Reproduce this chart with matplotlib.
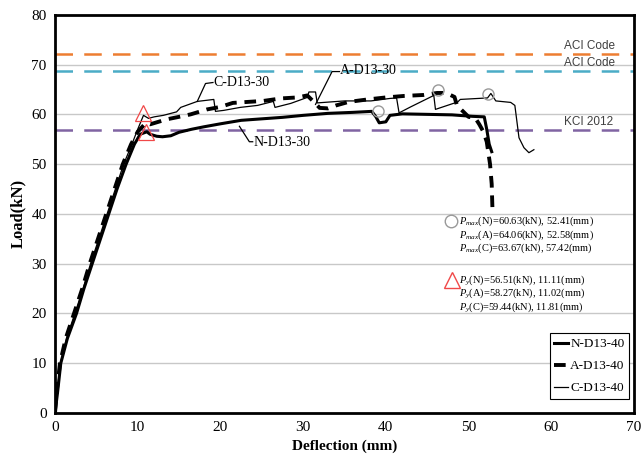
'''
Load-deflection curves, D13-40 series
'''

import matplotlib
matplotlib.use('Agg')
import matplotlib.pyplot as plt

plt.rcParams['font.family'] = 'Liberation Serif'
plt.rcParams['mathtext.fontset'] = 'custom'
plt.rcParams['mathtext.rm'] = 'Liberation Serif'
plt.rcParams['mathtext.it'] = 'Liberation Serif:italic'

# N-D13-40
n_x = [0, 0.3, 0.7, 1.5, 2.6, 3.5, 4.5, 5.5, 6.5, 7.5, 8.6, 9.6, 10.3, 11.1, 11.5, 12.3, 13.0,
       14.0, 15.0, 16.5, 18.0, 20.0, 22.5, 25.0, 27.5, 30.0, 33.0, 36.0, 38.3, 38.8, 39.2, 40.0,
       40.5, 42.0, 45.0, 48.0, 50.5, 51.9, 52.2, 52.5, 52.8]
n_y = [0, 4, 10, 15, 20, 25, 30, 35, 40, 45, 50, 54, 56, 56.5, 56.0, 55.6, 55.5,
       55.7, 56.4, 57.0, 57.5, 58.1, 58.8, 59.1, 59.4, 59.8, 60.2, 60.4, 60.6, 59.5, 58.3, 58.5,
       59.8, 60.1, 60.0, 59.9, 59.6, 59.5, 57.0, 54.0, 52.5]

# A-D13-40
a_x = [0, 0.25, 0.6, 1.3, 2.3, 3.3, 4.2, 5.2, 6.2, 7.2, 8.2, 9.2, 10.0, 11.0, 11.5, 12.3, 13.5,
       14.7, 16.4, 18.4, 20.0, 21.5, 23.3, 25.2, 27.3, 29.3, 30.5, 31.3, 32.0, 33.0, 34.0, 35.5,
       37.8, 40.0, 42.2, 44.6, 46.2, 47.3, 48.3, 48.6, 50.0, 50.8, 51.3, 51.8, 52.2, 52.6, 52.8,
       52.9]
a_y = [0, 5, 10, 15, 20, 25, 30, 35, 40, 45, 50, 54, 56.5, 58.3, 58.0, 58.4, 59.0,
       59.4, 60.0, 61.0, 61.5, 62.3, 62.5, 62.7, 63.2, 63.4, 63.8, 62.5, 61.3, 61.2, 61.8, 62.5,
       63.0, 63.4, 63.7, 63.9, 64.3, 64.3, 63.5, 61.8, 59.5, 59.3, 58.0, 56.5, 54.5, 50.0, 46.0,
       40.5]

# C-D13-40
c_x = [0, 0.3, 0.65, 1.4, 2.4, 3.4, 4.3, 5.3, 6.3, 7.3, 8.3, 9.3, 10.0, 10.7, 11.3, 12.0, 13.1,
       14.7, 15.2, 17.2, 19.2, 19.4, 20.4, 22.4, 24.5, 26.4, 26.6, 28.5, 30.5, 30.7, 31.5, 31.7,
       35.0, 38.2, 40.5, 41.3, 41.6, 43.0, 45.8, 46.0, 48.7, 49.0, 52.3, 52.7, 53.3, 55.1, 55.6,
       56.1, 56.7, 57.3, 57.9]
c_y = [0, 5, 10, 15, 20, 25, 30, 35, 40, 45, 50, 54, 57, 59.8, 59.2, 59.5, 59.8,
       60.5, 61.4, 62.6, 63.0, 60.6, 60.8, 61.4, 61.8, 62.6, 61.4, 62.2, 63.4, 64.5, 64.5, 62.3,
       62.7, 62.7, 63.2, 63.3, 60.3, 61.5, 63.8, 61.0, 62.5, 63.0, 63.3, 64.2, 62.7, 62.4, 61.8,
       55.3, 53.3, 52.3, 52.9]

# design code loads
code_loads = [72.1, 68.7, 56.9]
code_names = ['ACI Code', 'ACI Code', 'KCI 2012']
code_colors = ['#ED7D31', '#4BACC6', '#8064A2']

# marked points
pmax_x = [39.0, 46.3, 52.4]
pmax_y = [60.6, 64.8, 64.0]
py_x = [10.7, 11.0]
py_y = [60.2, 56.5]

pmax_text = ['$P_{max}$(N)=60.63(kN), 52.41(mm)',
             '$P_{max}$(A)=64.06(kN), 52.58(mm)',
             '$P_{max}$(C)=63.67(kN), 57.42(mm)']
py_text = ['$P_y$(N)=56.51(kN), 11.11(mm)',
           '$P_y$(A)=58.27(kN), 11.02(mm)',
           '$P_y$(C)=59.44(kN), 11.81(mm)']

fig = plt.figure(figsize=(6.44, 4.63), dpi=100)
ax = fig.add_axes([0.0854, 0.108, 0.899, 0.860])

for v in range(10, 80, 10):
    ax.axhline(v, color='#c8c8c8', lw=1.0, zorder=0)

for v, name, col in zip(code_loads, code_names, code_colors):
    ax.axhline(v, color=col, lw=1.8, ls=(0, (7, 4.5)), zorder=1)
    ax.text(61.5, v + 0.4, name, family='Liberation Sans', fontsize=8.5, color='#404040',
            va='bottom', ha='left')

l1, = ax.plot(n_x, n_y, color='black', lw=2.2, label='N-D13-40', zorder=3)
l2, = ax.plot(a_x, a_y, color='black', lw=2.8, ls=(0, (3, 2)), label='A-D13-40', zorder=3)
l3, = ax.plot(c_x, c_y, color='black', lw=0.9, label='C-D13-40', zorder=3)

ax.plot(pmax_x, pmax_y, 'o', ms=8, mfc='none', mec='#999999', mew=1.0, zorder=4)
ax.plot(py_x, py_y, '^', ms=11, mfc='none', mec='#F04848', mew=0.9, zorder=4)

# curve labels with leaders
ax.plot([17.2, 18.2, 19.1], [62.6, 66.2, 66.4], color='black', lw=0.9)
ax.text(19.2, 66.5, 'C-D13-30', fontsize=10, va='center', ha='left')
ax.plot([31.5, 33.5, 34.4], [62.0, 68.6, 68.6], color='black', lw=0.9)
ax.text(34.5, 68.8, 'A-D13-30', fontsize=10, va='center', ha='left')
ax.plot([22.3, 23.5, 23.9], [57.6, 54.5, 54.5], color='black', lw=0.9)
ax.text(24.0, 54.4, 'N-D13-30', fontsize=10, va='center', ha='left')

# annotation blocks
ax.plot([47.9], [38.5], 'o', ms=9, mfc='none', mec='#999999', mew=1.0)
for i, t in enumerate(pmax_text):
    ax.text(48.9, 38.5 - 2.75 * i, t, fontsize=7.5, va='center', ha='left')
ax.plot([48.0], [26.8], '^', ms=12, mfc='none', mec='#F04848', mew=1.0)
for i, t in enumerate(py_text):
    ax.text(48.9, 26.8 - 2.75 * i, t, fontsize=7.5, va='center', ha='left')

leg = ax.legend(handles=[l1, l2, l3], loc='lower right', fontsize=9.5, frameon=True,
                fancybox=False, edgecolor='black', framealpha=1, handlelength=1.0,
                handletextpad=0.2, borderpad=0.35, labelspacing=0.75, borderaxespad=0,
                bbox_to_anchor=(0.992, 0.035))
leg.get_frame().set_linewidth(0.8)

ax.set_xlim(0, 70)
ax.set_ylim(0, 80)
ax.set_xticks(range(0, 71, 10))
ax.set_yticks(range(0, 81, 10))
ax.tick_params(length=0, labelsize=11, pad=6)
for s in ax.spines.values():
    s.set_linewidth(2.0)

ax.set_xlabel('Deflection (mm)', fontsize=11, fontweight='bold', labelpad=4)
ax.set_ylabel('Load(kN)', fontsize=12, fontweight='bold', labelpad=4)

plt.savefig('out.png', dpi=100)
